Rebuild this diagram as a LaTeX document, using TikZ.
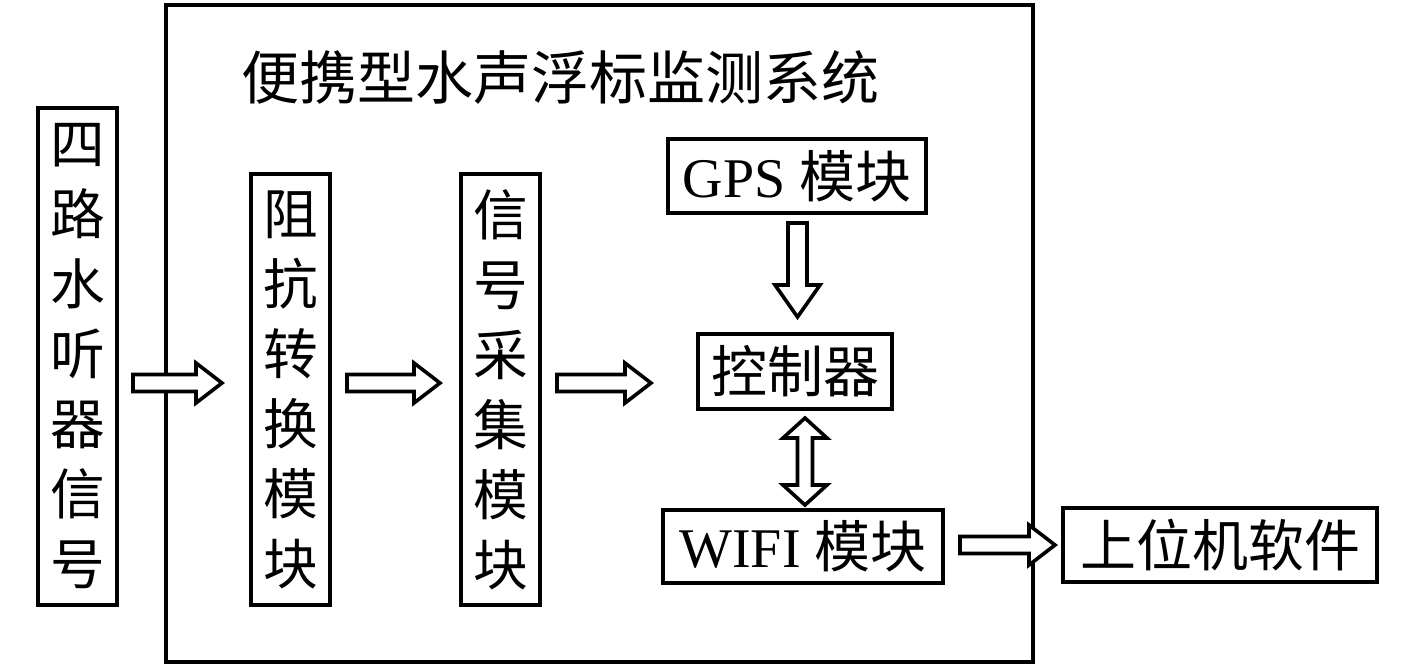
\documentclass[tikz,border=0pt]{standalone}
\usepackage{fontspec}
\setmainfont{Liberation Serif}
\newfontfamily\cjk{Noto Sans CJK SC}
\usetikzlibrary{calc}
\tikzset{
  box/.style={draw, line width=3pt, inner sep=0pt, fill=white},
  vbox/.style={box, align=center, font=\cjk\fontsize{41}{52.5}\selectfont},
  hbox/.style={box, font=\fontsize{42}{50}\selectfont},
  arr/.style={draw, line width=2.7pt, fill=white, line join=miter}
}
% right-pointing hollow arrow: start, end
\newcommand\harr[2]{\draw[arr] ($(#1)+(0,-8.5)$) -- ($(#2)+(-26,-8.5)$) -- ($(#2)+(-26,-20)$) -- (#2) -- ($(#2)+(-26,20)$) -- ($(#2)+(-26,8.5)$) -- ($(#1)+(0,8.5)$) -- cycle;}
\begin{document}
\begin{tikzpicture}[x=0.75pt,y=-0.75pt]
\useasboundingbox (0,0) rectangle (1417,669);
\fill[white] (0,0) rectangle (1417,669);
% outer system box
\node[box, fill=none, minimum width=650.25pt, minimum height=492.75pt] (sys) at (599.5,333.5) {};
\node[font=\cjk\fontsize{43.5}{50}\selectfont, inner sep=0pt] (title) at (560,77) {便携型水声浮标监测系统};
% vertical boxes
\node[vbox, minimum width=59.25pt, minimum height=372.75pt] (src) at (77.5,356.5) {四\\路\\水\\听\\器\\信\\号};
\node[vbox, minimum width=59.25pt, minimum height=323.25pt] (imp) at (290.5,389.5) {阻\\抗\\转\\换\\模\\块};
\node[vbox, minimum width=59.25pt, minimum height=323.25pt] (acq) at (500.5,389.5) {信\\号\\采\\集\\模\\块};
% horizontal boxes
\node[hbox, minimum width=193.5pt, minimum height=55.5pt] (gps) at (797,176) {GPS {\cjk 模块}};
\node[hbox, minimum width=145.5pt, minimum height=56.25pt] (ctl) at (795,371.5) {\cjk 控制器};
\node[hbox, minimum width=210pt, minimum height=54.75pt] (wifi) at (803,546.5) {WIFI {\cjk 模块}};
\node[hbox, minimum width=235.5pt, minimum height=55.5pt] (pc) at (1220,545) {\cjk 上位机软件};
% arrow end points
\coordinate (a1s) at (133,383); \coordinate (a1e) at (222,383);
\coordinate (a2s) at (347,383); \coordinate (a2e) at (440,383);
\coordinate (a3s) at (557,383); \coordinate (a3e) at (651,383);
\coordinate (a5s) at (960,545); \coordinate (a5e) at (1055,545);
\coordinate (dgs) at (797.5,223); \coordinate (dge) at (797.5,317);
\coordinate (dbs) at (805,418); \coordinate (dbe) at (805,505);
\harr{a1s}{a1e}
\harr{a2s}{a2e}
\harr{a3s}{a3e}
\harr{a5s}{a5e}
% down arrow GPS -> controller
\draw[arr] ($(dgs)+(-9.5,0)$) -- ($(dge)+(-9.5,-32)$) -- ($(dge)+(-22.5,-32)$) -- (dge) -- ($(dge)+(22.5,-32)$) -- ($(dge)+(9.5,-32)$) -- ($(dgs)+(9.5,0)$) -- cycle;
% double arrow controller <-> wifi
\draw[arr] (dbs) -- ($(dbs)+(22,20)$) -- ($(dbs)+(7.5,20)$) -- ($(dbe)+(7.5,-20)$) -- ($(dbe)+(22,-20)$) -- (dbe) -- ($(dbe)+(-22,-20)$) -- ($(dbe)+(-7.5,-20)$) -- ($(dbs)+(-7.5,20)$) -- ($(dbs)+(-22,20)$) -- cycle;
\end{tikzpicture}
\end{document}
